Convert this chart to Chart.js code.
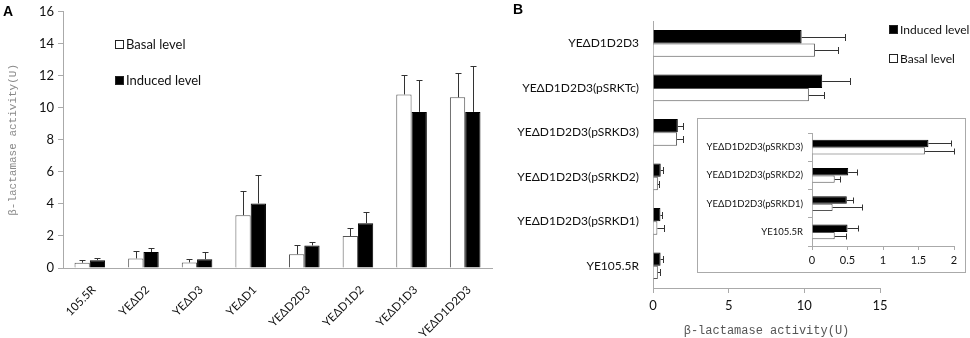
<!DOCTYPE html>
<html>
<head>
<meta charset="utf-8">
<script src="https://cdn.jsdelivr.net/npm/chart.js@4"></script>
<style>
    body { margin: 0; background: #fff; }
    #wrap { position: relative; width: 970px; height: 338px; overflow: hidden; }
    canvas { position: absolute; }
    .panel { position: absolute; font: bold 14px "Liberation Sans", Arial, sans-serif; color: #000; }
    #insetBox { position: absolute; left: 697px; top: 118px; width: 267px; height: 153px; border: 1px solid #aaa; background: #fff; }
</style>
</head>
<body>
<div id="wrap">
    <canvas id="chartA" width="500" height="338" style="left:0;top:0"></canvas>
    <canvas id="chartB" width="470" height="338" style="left:500px;top:0"></canvas>
    <div id="insetBox"><canvas id="chartInset" width="267" height="153" style="left:0;top:0"></canvas></div>
    <div class="panel" style="left:3px;top:3px">A</div>
    <div class="panel" style="left:513px;top:1px">B</div>
</div>
<script>
// panel A
const catsA = ["105.5R", "YEΔD2", "YEΔD3", "YEΔD1", "YEΔD2D3", "YEΔD1D2", "YEΔD1D3", "YEΔD1D2D3"];
const basalA = [0.33, 0.6, 0.35, 3.3, 0.86, 2.0, 10.84, 10.66];
const basalErrA = [0.2, 0.45, 0.2, 1.53, 0.6, 0.47, 1.24, 1.5];
const inducedA = [0.49, 1.0, 0.55, 4.03, 1.41, 2.8, 9.75, 9.75];
const inducedErrA = [0.15, 0.25, 0.45, 1.78, 0.2, 0.72, 2.0, 2.87];

// panel B (top to bottom)
const catsB = ["YEΔD1D2D3", "YEΔD1D2D3(pSRKTc)", "YEΔD1D2D3(pSRKD3)", "YEΔD1D2D3(pSRKD2)", "YEΔD1D2D3(pSRKD1)", "YE105.5R"];
const inducedB = [9.82, 11.18, 1.64, 0.51, 0.49, 0.5];
const inducedErrB = [2.86, 1.82, 0.32, 0.12, 0.09, 0.15];
const basalB = [10.7, 10.3, 1.59, 0.32, 0.29, 0.32];
const basalErrB = [1.5, 1.0, 0.41, 0.07, 0.42, 0.16];

// inset shows the small ones
const insetFrom = 2;

const LABEL_FONT = "Lato, 'Noto Sans', sans-serif";
const TITLE_FONT = "'Liberation Mono', 'DejaVu Sans Mono', monospace";
const AXIS_TITLE = "β-lactamase activity(U)";

Chart.defaults.font.family = LABEL_FONT;
Chart.defaults.color = "#111";

const errorBars = {
    id: "errorBars",
    afterDatasetsDraw(chart, args, opts) {
        const ctx = chart.ctx;
        const horizontal = chart.options.indexAxis === "y";
        const scale = horizontal ? chart.scales.x : chart.scales.y;
        const c = opts.cap || 3;
        ctx.save();
        ctx.strokeStyle = opts.color || "#333";
        ctx.lineWidth = 1;
        chart.data.datasets.forEach((ds, i) => {
            if (!ds.errors) return;
            chart.getDatasetMeta(i).data.forEach((bar, j) => {
                const end = Math.round(scale.getPixelForValue(ds.data[j] + ds.errors[j])) + 0.5;
                ctx.beginPath();
                if (horizontal) {
                    const y = Math.round(bar.y) + 0.5;
                    ctx.moveTo(bar.x, y);
                    ctx.lineTo(end, y);
                    ctx.moveTo(end, y - c);
                    ctx.lineTo(end, y + c);
                } else {
                    const x = Math.round(bar.x) + 0.5;
                    ctx.moveTo(x, bar.y);
                    ctx.lineTo(x, end);
                    ctx.moveTo(x - c, end);
                    ctx.lineTo(x + c, end);
                }
                ctx.stroke();
            });
        });
        ctx.restore();
    },
};

const boxLegend = {
    id: "boxLegend",
    afterDraw(chart, args, opts) {
        if (!opts.order) return;
        const ctx = chart.ctx;
        ctx.save();
        ctx.font = opts.font;
        ctx.textBaseline = "middle";
        opts.order.forEach((dsIndex, k) => {
            const ds = chart.data.datasets[dsIndex];
            const y = Math.round(opts.y + k * opts.gap);
            ctx.fillStyle = ds.backgroundColor;
            ctx.fillRect(opts.x, y - 4, 9, 9);
            ctx.strokeStyle = "#222";
            ctx.lineWidth = 1;
            ctx.strokeRect(opts.x + 0.5, y - 3.5, 8, 8);
            ctx.fillStyle = "#111";
            ctx.fillText(ds.label, opts.x + 11, y + 1);
        });
        ctx.restore();
    },
};

Chart.register(errorBars, boxLegend);

const BASE = {
    responsive: false,
    animation: false,
    devicePixelRatio: 1,
    events: [],
};

let chartA = new Chart(document.getElementById("chartA"), {
    type: "bar",
    data: {
        labels: catsA,
        datasets: [
            { label: "Basal level", data: basalA, errors: basalErrA, backgroundColor: "#fff", borderColor: "#555", borderWidth: 1 },
            { label: "Induced level", data: inducedA, errors: inducedErrA, backgroundColor: "#000", borderColor: "#000", borderWidth: 1 },
        ],
    },
    options: {
        ...BASE,
        datasets: { bar: { categoryPercentage: 0.57, barPercentage: 1 } },
        layout: { padding: { top: 7, right: 8, left: 0, bottom: 0 } },
        plugins: {
            legend: { display: false },
            tooltip: { enabled: false },
            errorBars: { cap: 3, color: "#333" },
            boxLegend: { order: [0, 1], x: 115, y: 44, gap: 36, font: "13px " + LABEL_FONT },
        },
        scales: {
            x: {
                grid: { drawOnChartArea: false, drawTicks: false },
                border: { color: "#aaa" },
                ticks: { font: { size: 11.5 }, minRotation: 45, maxRotation: 45, padding: 15, labelOffset: 4 },
                afterFit: (s) => { s.height = 70; },
            },
            y: {
                min: 0,
                max: 16,
                ticks: { stepSize: 2, font: { size: 13 }, padding: 4 },
                grid: { drawOnChartArea: false, tickLength: 5, color: "#aaa" },
                border: { color: "#aaa" },
                title: { display: true, text: AXIS_TITLE, font: { family: TITLE_FONT, size: 11 }, color: "#888", padding: { top: 6, bottom: 0 } },
                afterFit: (s) => { s.width = 63; },
            },
        },
    },
});

let chartB = new Chart(document.getElementById("chartB"), {
    type: "bar",
    data: {
        labels: catsB,
        datasets: [
            { label: "Induced level", data: inducedB, errors: inducedErrB, backgroundColor: "#000", borderColor: "#000", borderWidth: 1 },
            { label: "Basal level", data: basalB, errors: basalErrB, backgroundColor: "#fff", borderColor: "#555", borderWidth: 1 },
        ],
    },
    options: {
        ...BASE,
        indexAxis: "y",
        datasets: { bar: { categoryPercentage: 0.6, barPercentage: 1 } },
        layout: { padding: { top: 8, right: 90, left: 0, bottom: 0 } },
        plugins: {
            legend: { display: false },
            tooltip: { enabled: false },
            errorBars: { cap: 3.5, color: "#333" },
            boxLegend: { order: [0, 1], x: 389, y: 29, gap: 29, font: "12px " + LABEL_FONT },
        },
        scales: {
            x: {
                min: 0,
                max: 15,
                ticks: { stepSize: 5, font: { size: 13 }, padding: 5 },
                grid: { drawOnChartArea: false, tickLength: 5, color: "#aaa" },
                border: { color: "#aaa" },
                title: { display: true, text: AXIS_TITLE, font: { family: TITLE_FONT, size: 12 }, color: "#555", padding: { top: 6, bottom: 0 } },
                afterFit: (s) => { s.height = 50; },
            },
            y: {
                ticks: { font: { size: 12 }, padding: 14 },
                grid: { drawOnChartArea: false, drawTicks: false },
                border: { color: "#aaa" },
                afterFit: (s) => { s.width = 153; },
            },
        },
    },
});

let chartInset = new Chart(document.getElementById("chartInset"), {
    type: "bar",
    data: {
        labels: catsB.slice(insetFrom),
        datasets: [
            { label: "Induced level", data: inducedB.slice(insetFrom), errors: inducedErrB.slice(insetFrom), backgroundColor: "#000", borderColor: "#000", borderWidth: 1 },
            { label: "Basal level", data: basalB.slice(insetFrom), errors: basalErrB.slice(insetFrom), backgroundColor: "#fff", borderColor: "#555", borderWidth: 1 },
        ],
    },
    options: {
        ...BASE,
        indexAxis: "y",
        datasets: { bar: { categoryPercentage: 0.53, barPercentage: 1 } },
        layout: { padding: { top: 14, right: 11, left: 0, bottom: 0 } },
        plugins: {
            legend: { display: false },
            tooltip: { enabled: false },
            errorBars: { cap: 3, color: "#333" },
            boxLegend: false,
        },
        scales: {
            x: {
                min: 0,
                max: 2,
                ticks: { stepSize: 0.5, font: { size: 11 }, padding: 4, callback: (v) => String(v) },
                grid: { drawOnChartArea: false, tickLength: 4, color: "#aaa" },
                border: { color: "#aaa" },
                afterFit: (s) => { s.height = 26; },
            },
            y: {
                ticks: { font: { size: 9.5 }, padding: 5 },
                grid: { drawOnChartArea: false, tickLength: 4, color: "#aaa" },
                border: { color: "#aaa" },
                afterFit: (s) => { s.width = 114; },
            },
        },
    },
});
</script>
</body>
</html>
